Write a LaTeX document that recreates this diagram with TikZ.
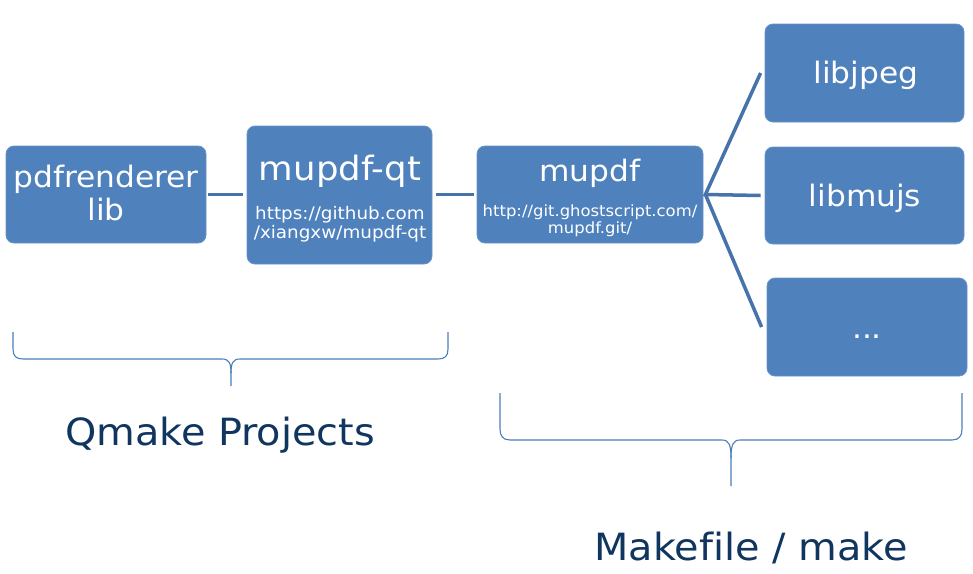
\documentclass[tikz,border=0pt]{standalone}
\usepackage{fontspec}
\setmainfont{DejaVu Sans}[FakeStretch=1.06, Ligatures=NoCommon]
\definecolor{boxblue}{HTML}{4F81BD}
\definecolor{lineblue}{HTML}{4674AA}
\definecolor{bracecol}{HTML}{4A7EBB}
\definecolor{navy}{HTML}{10365F}
\tikzset{
  box/.style={fill=boxblue, draw=boxblue!85!white, line width=0.8pt, rounded corners=8pt, inner sep=0pt},
  conn/.style={draw=lineblue, line width=3.5pt},
  brace/.style={draw=bracecol, line width=1.1pt},
  wt/.style={text=white, inner sep=0pt, anchor=base},
  big/.style={font=\fontsize{29.5}{34}\selectfont},
  lbl/.style={text=navy, inner sep=0pt, anchor=base, font=\fontsize{37.5}{42}\selectfont},
}
\begin{document}
\begin{tikzpicture}[x=1pt,y=-1pt]
\useasboundingbox[fill=white] (0,0) rectangle (973,573);
% boxes
\node[box, minimum width=200pt, minimum height=97pt] (pdf) at (106,194.5) {};
\node[box, minimum width=185pt, minimum height=138pt] (mqt) at (339.5,195) {};
\node[box, minimum width=226pt, minimum height=97pt] (mu) at (590,194.5) {};
\node[box, minimum width=199pt, minimum height=98pt] (jpeg) at (864.5,73) {};
\node[box, minimum width=199pt, minimum height=97pt] (mujs) at (864.5,195.5) {};
\node[box, minimum width=200pt, minimum height=98pt] (more) at (867,327) {};
% texts
\node[wt, big] (t1a) at (106,187) {pdfrenderer};
\node[wt, big] (t1b) at (106,220) {lib};
\node[wt, font=\fontsize{33.5}{38}\selectfont] (t2) at (340,180) {mupdf-qt};
\node[wt, font=\fontsize{17.3}{20}\selectfont] (t2a) at (340,219) {https://github.com};
\node[wt, font=\fontsize{17.3}{20}\selectfont] (t2b) at (340,238) {/xiangxw/mupdf-qt};
\node[wt, big] (t3) at (590,181) {mupdf};
\node[wt, font=\fontsize{15.5}{17}\selectfont] (t3a) at (590,216) {http://git.ghostscript.com/};
\node[wt, font=\fontsize{15.5}{17}\selectfont] (t3b) at (590,233) {mupdf.git/};
\node[wt, big] (t4) at (866,83) {libjpeg};
\node[wt, big] (t5) at (865,206) {libmujs};
\node[wt, big] (t6) at (867,338) {...};
% connectors
\draw[conn] ([xshift=2pt]pdf.east) -- ([xshift=-4pt]mqt.west |- pdf.east);
\draw[conn] ([xshift=4pt]mqt.east |- mu.west) -- ([xshift=-3pt]mu.west);
\coordinate (fan) at ([xshift=2pt]mu.east);
\draw[conn, line join=miter] ([xshift=-4pt]jpeg.west) -- (fan) -- ([xshift=-4pt]mujs.west);
\draw[conn] (fan) -- ([xshift=-5pt]more.west);
% braces
\coordinate (b1tip) at (231,386);
\draw[brace] (13,332) -- (13,349) .. controls (13,356) and (16,359) .. (23,359) -- (222,359)
  .. controls (229,359) and (231,363) .. (231,373) -- (b1tip);
\draw[brace] (231,373) .. controls (231,363) and (233,359) .. (240,359) -- (438,359)
  .. controls (445,359) and (448,356) .. (448,349) -- (448,332);
\coordinate (b2tip) at (731,486);
\draw[brace] (500,393) -- (500,429) .. controls (500,436) and (503,440) .. (510,440) -- (722,440)
  .. controls (729,440) and (731,445) .. (731,458) -- (b2tip);
\draw[brace] (731,458) .. controls (731,445) and (733,440) .. (740,440) -- (952,440)
  .. controls (959,440) and (962,436) .. (962,429) -- (962,393);
% labels
\node[lbl] (q) at (220,445) {Qmake Projects};
\node[lbl] (mk) at (751,560) {Makefile / make};
\end{tikzpicture}
\end{document}
